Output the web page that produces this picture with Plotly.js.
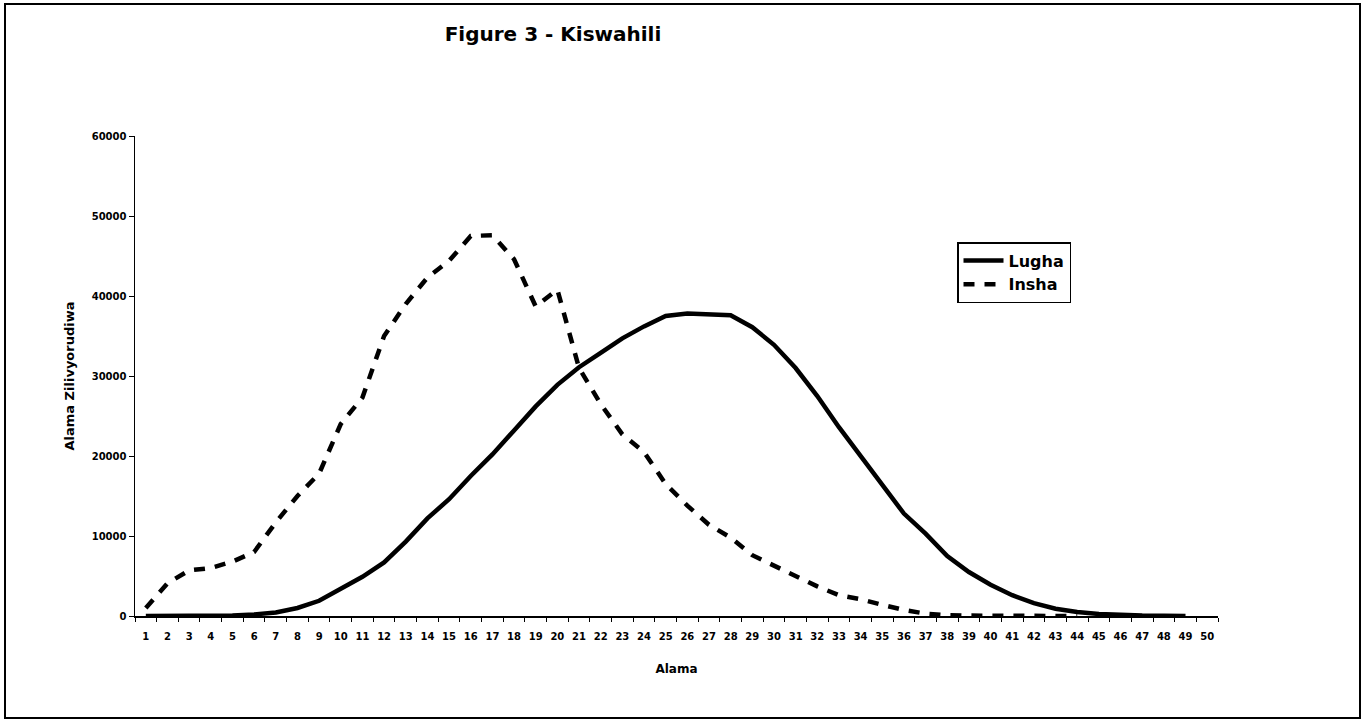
<!DOCTYPE html>
<html>
<head>
<meta charset="utf-8">
<script src="https://cdn.plot.ly/plotly-3.0.1.min.js"></script>
<style>
  html, body { margin: 0; padding: 0; background: #fff; }
  #chart { width: 1364px; height: 723px; }
</style>
</head>
<body>
<div id="chart"></div>
<script>
// Categories (Alama)
const categories = Array.from({length: 50}, (_, i) => String(i + 1));

// Lugha series (solid)
const lugha = [0, 0, 0, 20, 60, 200, 450, 1000, 1900, 3400,
  4900, 6700, 9300, 12200, 14600, 17500, 20200, 23200, 26200, 28900,
  31100, 32900, 34700, 36200, 37500, 37800, 37700, 37600, 36100, 33900,
  31000, 27500, 23600, 20000, 16500, 12800, 10300, 7500, 5500, 3900,
  2600, 1600, 900, 500, 250, 100, 50, 20, 0, null];

// Insha series (dashed)
const insha = [1000, 4100, 5700, 6000, 6800, 8000, 11700, 15000, 17800, 24000,
  27300, 35000, 39000, 42300, 44400, 47500, 47600, 44600, 38700, 40800,
  31000, 26500, 22700, 20500, 16500, 13800, 11400, 9800, 7600, 6300,
  4900, 3700, 2600, 2100, 1400, 750, 300, 100, 50, 30,
  20, 10, 5, 0, null, null, null, null, null, null];

const yTicks = [0, 10000, 20000, 30000, 40000, 50000, 60000];

const FONT = "DejaVu Sans, Arial, sans-serif";

const traces = [
  {
    x: categories, y: lugha, name: "Lugha", type: "scatter", mode: "lines",
    line: {color: "#000", width: 4.5, dash: "solid"}
  },
  {
    x: categories, y: insha, name: "Insha", type: "scatter", mode: "lines",
    line: {color: "#000", width: 4.5, dash: "11px,10px"}
  }
];

const L = 135, R = 1218, T = 136, B = 616;
const pw = R - L, ph = B - T;

const layout = {
  width: 1364, height: 723,
  margin: {l: L, r: 1364 - R, t: T, b: 723 - B, pad: 0},
  paper_bgcolor: "#fff", plot_bgcolor: "#fff",
  showlegend: true,
  font: {family: FONT, color: "#000"},
  title: {
    text: "Figure 3 - Kiswahili",
    font: {family: FONT, size: 20, weight: "bold", color: "#000"},
    x: 553 / 1364, xanchor: "center", xref: "container",
    y: 1 - 34 / 723, yanchor: "middle", yref: "container"
  },
  xaxis: {
    type: "category", categoryorder: "array", categoryarray: categories,
    range: [-0.5, 49.5],
    showline: true, linecolor: "#000", linewidth: 1.5,
    ticks: "outside", ticklen: 4, tickcolor: "#000", tickwidth: 1, tickson: "boundaries",
    tickangle: 0, ticklabelstandoff: 10,
    tickfont: {family: FONT, size: 10, weight: "bold", color: "#000"},
    showgrid: false, zeroline: false, fixedrange: true,
    title: {text: "Alama", font: {family: FONT, size: 12, weight: "bold", color: "#000"}, standoff: 24}
  },
  yaxis: {
    range: [0, 60000], tickvals: yTicks, tickformat: "d",
    showline: true, linecolor: "#000", linewidth: 1.5,
    ticks: "outside", ticklen: 5, tickcolor: "#000", tickwidth: 1,
    tickfont: {family: FONT, size: 10, weight: "bold", color: "#000"},
    showgrid: false, zeroline: false, fixedrange: true,
    title: {text: "Alama Zilivyorudiwa", font: {family: FONT, size: 13, weight: "bold", color: "#000"}, standoff: 14}
  },
  legend: {
    x: (957 - L) / pw, xanchor: "left",
    y: (B - 242) / ph, yanchor: "top",
    bgcolor: "#fff", bordercolor: "#000", borderwidth: 1.5,
    font: {family: FONT, size: 16, weight: "bold", color: "#000"},
    tracegroupgap: 0, itemwidth: 40
  },
  shapes: [{
    type: "rect", xref: "paper", yref: "paper",
    x0: (5 - L) / pw, x1: (1360 - L) / pw,
    y0: (B - 718) / ph, y1: (B - 4) / ph,
    line: {color: "#000", width: 2}, fillcolor: "rgba(0,0,0,0)", layer: "above"
  }]
};

Plotly.newPlot("chart", traces, layout, {displayModeBar: false, staticPlot: true});
</script>
</body>
</html>
